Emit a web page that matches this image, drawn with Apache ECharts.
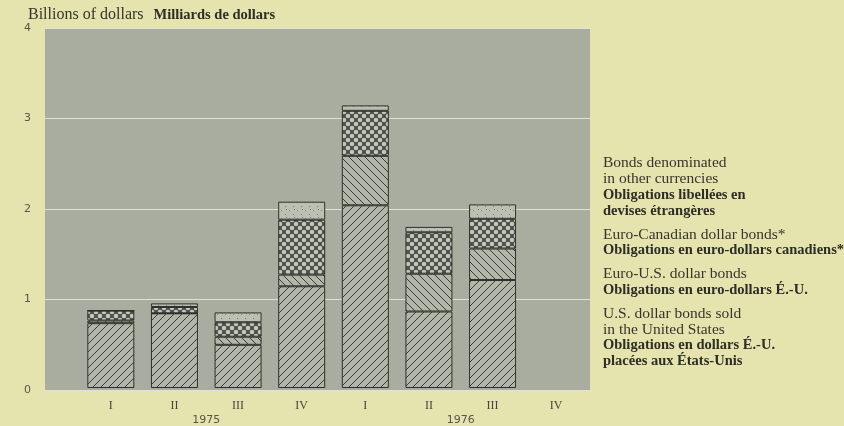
<!DOCTYPE html>
<html>
<head>
<meta charset="utf-8">
<script src="https://cdn.jsdelivr.net/npm/echarts@6/dist/echarts.min.js"></script>
<style>
  html, body { margin: 0; padding: 0; background: #e6e4ae; }
  #chart { width: 844px; height: 426px; }
</style>
</head>
<body>
<div id="chart"></div>
<script>
// ---- Data ----
const quarters = ['I', 'II', 'III', 'IV', 'I', 'II', 'III', 'IV'];
const years = ['1975', '1976'];
const usBonds      = [0.72, 0.83, 0.48, 1.13, 2.03, 0.85, 1.20, null];
const euroUSBonds  = [0.03, 0.00, 0.09, 0.13, 0.55, 0.42, 0.35, null];
const euroCADBonds = [0.11, 0.07, 0.16, 0.61, 0.50, 0.46, 0.33, null];
const otherBonds   = [0.00, 0.04, 0.11, 0.20, 0.06, 0.06, 0.16, null];
const yTicks = [0, 1, 2, 3, 4];

const seriesNames = ['us', 'eus', 'ecad', 'other'];
const legendText = {
  other: ['{en|Bonds denominated}', '{en|in other currencies}', '{fr|Obligations libellées en}', '{fr|devises étrangères}'],
  ecad: ['{en|Euro-Canadian dollar bonds*}', '{fr|Obligations en euro-dollars canadiens*}'],
  eus: ['{en|Euro-U.S. dollar bonds}', '{fr|Obligations en euro-dollars É.-U.}'],
  us: ['{en|U.S. dollar bonds sold}', '{en|in the United States}', '{fr|Obligations en dollars É.-U.}', '{fr|placées aux États-Unis}']
};

// ---- Hatch patterns ----
const BG = '#a8ad9f';
const INK = '#3a3d38';
function makePattern(kind) {
  const c = document.createElement('canvas');
  const s = 8;
  c.width = s; c.height = s;
  const g = c.getContext('2d');
  if (kind === 'fwd' || kind === 'back') {
    g.fillStyle = '#b2b6a8';
    g.fillRect(0, 0, s, s);
    g.strokeStyle = INK;
    g.lineWidth = 1.0;
    g.beginPath();
    if (kind === 'fwd') {
      for (let k = -1; k <= 1; k++) { g.moveTo(k * s, s); g.lineTo(k * s + s, 0); }
    } else {
      for (let k = -1; k <= 1; k++) { g.moveTo(k * s, 0); g.lineTo(k * s + s, s); }
    }
    g.stroke();
  } else if (kind === 'cross') {
    g.fillStyle = '#4a4d47';
    g.fillRect(0, 0, s, s);
    g.fillStyle = '#c3c7bb';
    const pts = [[0, 0], [8, 0], [0, 8], [8, 8], [4, 4]];
    pts.forEach(p => { g.beginPath(); g.arc(p[0], p[1], 2.3, 0, Math.PI * 2); g.fill(); });
  } else {
    g.fillStyle = '#bcc0b3';
    g.fillRect(0, 0, s, s);
    g.fillStyle = '#7d8077';
    g.fillRect(1, 2, 1, 1);
    g.fillRect(5, 6, 1, 1);
    g.fillRect(6, 1, 1, 1);
  }
  return { image: c, repeat: 'repeat' };
}
const patterns = {
  us: makePattern('fwd'),
  eus: makePattern('back'),
  ecad: makePattern('cross'),
  other: makePattern('dots')
};
const dataMap = { us: usBonds, eus: euroUSBonds, ecad: euroCADBonds, other: otherBonds };

const chart = echarts.init(document.getElementById('chart'));
const serif = '"Liberation Serif", "DejaVu Serif", serif';

chart.setOption({
  animation: false,
  backgroundColor: '#e6e4ae',
  title: {
    left: 23, top: 1,
    text: '{a|Billions of dollars}  {b|Milliards de dollars}',
    textStyle: {
      fontWeight: 'normal',
      rich: {
        a: { fontFamily: serif, fontSize: 16, fontWeight: 'normal', color: '#34352c' },
        b: { fontFamily: serif, fontSize: 14.5, fontWeight: 'bold', color: '#2c2d25' }
      }
    }
  },
  grid: [
    { left: 45, right: 254, top: 28, bottom: 36, show: true, backgroundColor: BG, borderWidth: 0 },
    { left: 79, right: 256, top: 28, bottom: 36 }
  ],
  xAxis: [
    { gridIndex: 0, type: 'value', min: 0, max: 1, show: false },
    {
      gridIndex: 1, type: 'category', data: quarters,
      axisLine: { show: false }, axisTick: { show: false },
      axisLabel: { margin: 12, fontFamily: serif, fontSize: 12, color: '#44453c' }
    },
    {
      gridIndex: 1, type: 'category', data: years, position: 'bottom', offset: 14,
      axisLine: { show: false }, axisTick: { show: false },
      axisLabel: { margin: 13, fontFamily: '"DejaVu Sans", sans-serif', fontSize: 11, color: '#55564c' }
    }
  ],
  yAxis: [
    {
      gridIndex: 0, type: 'value', min: yTicks[0], max: yTicks[yTicks.length - 1], interval: 1,
      axisLine: { show: false }, axisTick: { show: false },
      axisLabel: { margin: 14, fontFamily: '"DejaVu Sans", sans-serif', fontSize: 11, color: '#55564c' },
      splitLine: { show: true, lineStyle: { color: '#dfe3d6', width: 1.2 } }
    },
    { gridIndex: 1, type: 'value', min: 0, max: 4, show: false, splitLine: { show: false } }
  ],
  legend: {
    orient: 'vertical', left: 593, top: 150,
    data: ['other', 'ecad', 'eus', 'us'],
    icon: 'none', itemWidth: 0, itemHeight: 0, itemGap: 8,
    selectedMode: false,
    formatter: name => legendText[name].join('\n'),
    textStyle: {
      rich: {
        en: { fontFamily: serif, fontSize: 15.5, color: '#34352c', lineHeight: 16 },
        fr: { fontFamily: serif, fontSize: 14.5, fontWeight: 'bold', color: '#2c2d25', lineHeight: 16 }
      }
    }
  },
  series: seriesNames.map(n => ({
    name: n,
    type: 'bar',
    stack: 'total',
    xAxisIndex: 1,
    yAxisIndex: 1,
    barWidth: 47,
    data: dataMap[n],
    itemStyle: { color: patterns[n], borderColor: '#2e302b', borderWidth: 1 },
    emphasis: { disabled: true }
  }))
});
</script>
</body>
</html>
